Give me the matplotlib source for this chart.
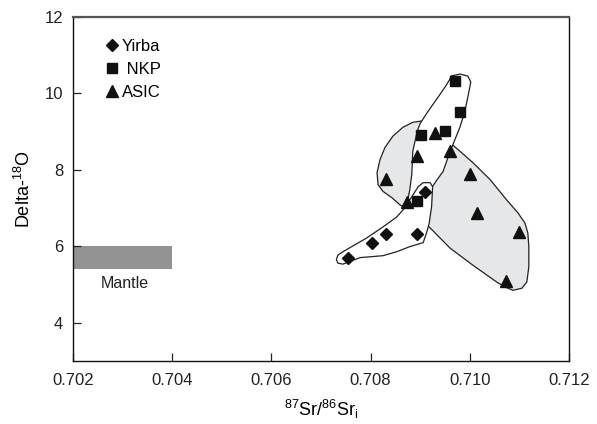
import matplotlib
matplotlib.use("Agg")
import matplotlib.pyplot as plt
from matplotlib.patches import Polygon, Rectangle

plt.rcParams['font.family'] = ['Liberation Sans', 'DejaVu Sans']
plt.rcParams['mathtext.fontset'] = 'custom'
plt.rcParams['mathtext.rm'] = 'Liberation Sans'
plt.rcParams['mathtext.it'] = 'Liberation Sans:italic'

# ---- data ----
yirba_sr = [0.70754, 0.70802, 0.70831, 0.70893, 0.70910]
yirba_o = [5.69, 6.09, 6.31, 6.32, 7.41]

nkp_sr = [0.70971, 0.70981, 0.70902, 0.70951, 0.70894]
nkp_o = [10.33, 9.52, 8.90, 9.01, 7.18]

asic_sr = [0.70930, 0.70960, 0.70893, 0.71000, 0.70831, 0.70873, 0.71015, 0.71099, 0.71073]
asic_o = [8.97, 8.49, 8.36, 7.88, 7.75, 7.15, 6.88, 6.38, 5.08]

# envelopes (data coordinates)
asic_env_sr = [0.70903, 0.70885, 0.70865, 0.70845, 0.70829, 0.70819, 0.70813, 0.70815,
               0.70825, 0.70843, 0.70859, 0.70869, 0.70890, 0.70920, 0.70960, 0.71006,
               0.71054, 0.71071, 0.71087, 0.71105, 0.71115, 0.71119, 0.71119, 0.71117,
               0.71111, 0.71097, 0.71074, 0.71041, 0.71006, 0.70980, 0.70964, 0.70940,
               0.70920]
asic_env_o = [9.279, 9.245, 9.113, 8.884, 8.587, 8.271, 7.929, 7.613,
              7.437, 7.271, 7.087, 7.008, 6.824, 6.482, 5.955, 5.508,
              5.068, 4.937, 4.850, 4.903, 5.068, 5.463, 5.989, 6.350,
              6.613, 6.876, 7.218, 7.745, 8.192, 8.489, 8.666, 8.850,
              9.061]

nkp_env_sr = [0.70962, 0.70980, 0.70996, 0.71002, 0.70996, 0.70990, 0.70980, 0.70966,
              0.70956, 0.70946, 0.70934, 0.70926, 0.70920, 0.70900, 0.70883, 0.70869,
              0.70875, 0.70879, 0.70883, 0.70885, 0.70894, 0.70900, 0.70916, 0.70936,
              0.70950, 0.70960]
nkp_env_o = [10.455, 10.508, 10.455, 10.297, 9.903, 9.534, 9.113, 8.666,
             8.324, 7.955, 7.745, 7.587, 7.455, 7.297, 7.166, 7.034,
             7.218, 7.482, 7.876, 8.482, 9.008, 9.218, 9.534, 9.903,
             10.166, 10.376]

yirba_env_sr = [0.70731, 0.70734, 0.70744, 0.70792, 0.70825, 0.70853, 0.70869, 0.70883,
                0.70896, 0.70906, 0.70920, 0.70925, 0.70923, 0.70918, 0.70913, 0.70906,
                0.70879, 0.70853, 0.70825, 0.70779, 0.70744, 0.70734]
yirba_env_o = [5.653, 5.771, 5.858, 6.218, 6.508, 6.771, 7.008, 7.297,
               7.561, 7.666, 7.666, 7.561, 7.045, 6.597, 6.361, 6.097,
               5.992, 5.861, 5.755, 5.705, 5.534, 5.561]

mantle_sr = [0.702, 0.704]
mantle_o = [5.4, 6.0]

x_ticks = [0.702, 0.704, 0.706, 0.708, 0.710, 0.712]
x_labels = ['0.702', '0.704', '0.706', '0.708', '0.710', '0.712']
y_ticks = [4, 6, 8, 10, 12]
y_labels = ['4', '6', '8', '10', '12']

# ---- figure ----
fig = plt.figure(figsize=(5.97, 4.24), dpi=100)
ax = fig.add_axes([0.1223, 0.1486, 0.8308, 0.8113])
ax.set_xlim(0.702, 0.712)
ax.set_ylim(3, 12)

ax.add_patch(Rectangle((mantle_sr[0], mantle_o[0]), mantle_sr[1] - mantle_sr[0],
                       mantle_o[1] - mantle_o[0], facecolor='#939393', edgecolor='none', zorder=1))
ax.text((mantle_sr[0] + mantle_sr[1]) / 2 + 0.00005, 5.03, 'Mantle', ha='center', va='center',
        fontsize=11.5, color='#222222')

ax.add_patch(Polygon(list(zip(asic_env_sr, asic_env_o)), closed=True, facecolor='#e6e7e8',
                     edgecolor='#222222', lw=0.9, zorder=2))
ax.add_patch(Polygon(list(zip(nkp_env_sr, nkp_env_o)), closed=True, facecolor='white',
                     edgecolor='#222222', lw=0.9, zorder=3))
ax.add_patch(Polygon(list(zip(yirba_env_sr, yirba_env_o)), closed=True, facecolor='white',
                     edgecolor='#222222', lw=0.9, zorder=4))

ax.plot(yirba_sr, yirba_o, linestyle='none', marker='D', ms=6, color='#111111', label='Yirba', zorder=5)
ax.plot(nkp_sr, nkp_o, linestyle='none', marker='s', ms=6.5, color='#111111', label=' NKP', zorder=5)
ax.plot(asic_sr, asic_o, linestyle='none', marker='^', ms=8.5, color='#111111', label='ASIC', zorder=5)

leg = ax.legend(loc='upper left', bbox_to_anchor=(0.055, 0.955), frameon=False, fontsize=12,
                handlelength=0.6, handletextpad=0.3, labelspacing=0.47, borderaxespad=0)

ax.set_xticks(x_ticks)
ax.set_xticklabels(x_labels)
ax.set_yticks(y_ticks)
ax.set_yticklabels(y_labels)
ax.tick_params(axis='x', direction='in', length=6, width=0.9, labelsize=12, pad=9, colors='#222222')
ax.tick_params(axis='y', direction='in', length=6, width=0.9, labelsize=12, pad=7, colors='#222222')

for s in ['left', 'bottom', 'right']:
    ax.spines[s].set_linewidth(1.0)
    ax.spines[s].set_color('#111111')
ax.spines['top'].set_linewidth(1.6)
ax.spines['top'].set_color('#555555')

ax.set_xlabel(r'$^{\mathrm{87}}$Sr/$^{\mathrm{86}}$Sr$_{\mathrm{i}}$', fontsize=13, labelpad=7)
ax.set_ylabel(r'Delta-$^{\mathrm{18}}$O', fontsize=13, labelpad=8)

fig.savefig('out.png', dpi=100)
